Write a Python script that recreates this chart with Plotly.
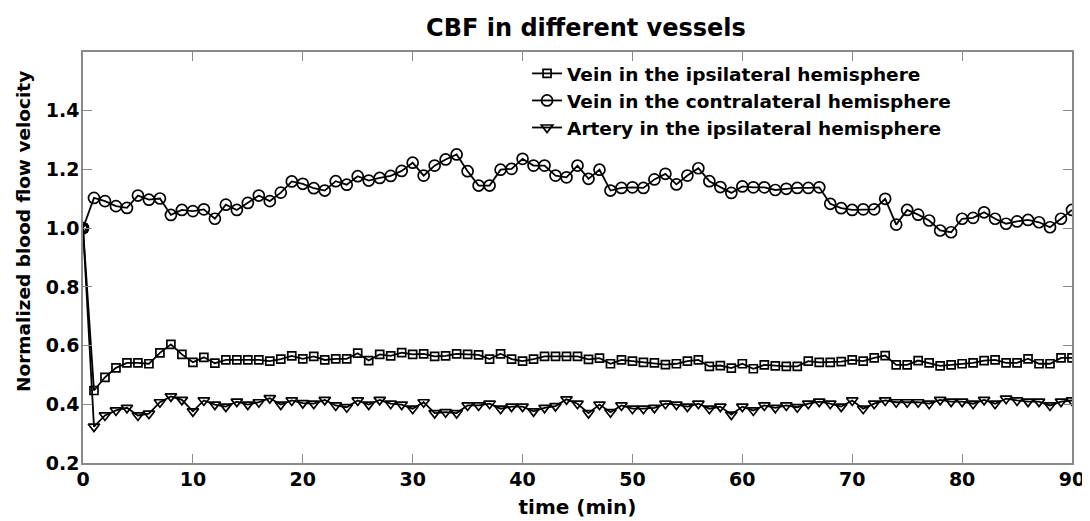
import plotly.graph_objects as go

time_min = list(range(0, 91))

vein_ipsi = [1.0, 0.447, 0.492, 0.524, 0.541, 0.541, 0.538, 0.575, 0.604, 0.570,
             0.543, 0.560, 0.540, 0.551, 0.551, 0.551, 0.551, 0.547, 0.554, 0.565,
             0.555, 0.563, 0.551, 0.555, 0.555, 0.574, 0.549, 0.570, 0.565, 0.576,
             0.570, 0.572, 0.563, 0.565, 0.572, 0.570, 0.568, 0.554, 0.572, 0.554,
             0.547, 0.554, 0.563, 0.563, 0.563, 0.563, 0.553, 0.557, 0.538, 0.551,
             0.547, 0.543, 0.541, 0.535, 0.538, 0.547, 0.551, 0.529, 0.532, 0.523,
             0.538, 0.521, 0.534, 0.531, 0.529, 0.529, 0.547, 0.543, 0.543, 0.545,
             0.551, 0.547, 0.558, 0.566, 0.534, 0.534, 0.549, 0.541, 0.531, 0.534,
             0.538, 0.541, 0.549, 0.551, 0.541, 0.541, 0.555, 0.538, 0.538, 0.558, 0.558]

vein_contra = [1.0, 1.103, 1.092, 1.075, 1.069, 1.111, 1.097, 1.101, 1.045, 1.062,
               1.058, 1.064, 1.032, 1.080, 1.062, 1.086, 1.111, 1.092, 1.121, 1.159,
               1.151, 1.136, 1.128, 1.160, 1.148, 1.177, 1.162, 1.171, 1.178, 1.195,
               1.223, 1.179, 1.213, 1.234, 1.251, 1.194, 1.145, 1.145, 1.199, 1.202,
               1.236, 1.213, 1.213, 1.179, 1.173, 1.213, 1.168, 1.199, 1.128, 1.137,
               1.139, 1.137, 1.166, 1.185, 1.149, 1.179, 1.204, 1.160, 1.140, 1.120,
               1.142, 1.139, 1.139, 1.130, 1.134, 1.137, 1.137, 1.139, 1.083, 1.068,
               1.062, 1.064, 1.064, 1.100, 1.012, 1.062, 1.046, 1.026, 0.992, 0.986,
               1.032, 1.035, 1.054, 1.032, 1.015, 1.023, 1.028, 1.020, 1.003, 1.032, 1.062]

artery_ipsi = [1.0, 0.324, 0.362, 0.379, 0.388, 0.362, 0.368, 0.407, 0.427, 0.415,
               0.376, 0.413, 0.399, 0.392, 0.409, 0.399, 0.407, 0.421, 0.399, 0.413,
               0.404, 0.402, 0.415, 0.396, 0.390, 0.413, 0.399, 0.415, 0.402, 0.399,
               0.385, 0.407, 0.370, 0.373, 0.370, 0.396, 0.396, 0.402, 0.385, 0.392,
               0.392, 0.376, 0.388, 0.394, 0.417, 0.402, 0.370, 0.399, 0.373, 0.396,
               0.385, 0.385, 0.388, 0.402, 0.399, 0.392, 0.402, 0.385, 0.392, 0.365,
               0.392, 0.379, 0.396, 0.388, 0.396, 0.390, 0.402, 0.409, 0.402, 0.392,
               0.413, 0.385, 0.402, 0.413, 0.407, 0.407, 0.407, 0.402, 0.415, 0.409,
               0.409, 0.402, 0.415, 0.402, 0.419, 0.413, 0.409, 0.409, 0.396, 0.409, 0.413]

names = ["Vein in the ipsilateral hemisphere",
         "Vein in the contralateral hemisphere",
         "Artery in the ipsilateral hemisphere"]
series = [vein_ipsi, vein_contra, artery_ipsi]
symbols = ["square-open", "circle-open", "triangle-down-open"]
sizes = [8, 11, 10]

x_ticks = [0, 10, 20, 30, 40, 50, 60, 70, 80, 90]
y_ticks = [0.2, 0.4, 0.6, 0.8, 1.0, 1.2, 1.4]
y_tick_labels = ["0.2", "0.4", "0.6", "0.8", "1.0", "1.2", "1.4"]

FONT = "DejaVu Sans"
AXIS_COLOR = "#8a8a8a"

# page body has an 8px default margin; size the figure to fit the 1090x521 window
W, H = 1082, 513
PL, PR, PT, PB = 75, 18, 44, 58   # plot area: window x 83..1072, y 52..463
PH = H - PT - PB

fig = go.Figure()
for name, vals, sym, sz in zip(names, series, symbols, sizes):
    fig.add_trace(go.Scatter(
        x=time_min, y=vals, name=name, mode="lines+markers",
        line=dict(color="black", width=1.8),
        marker=dict(symbol=sym, size=sz, color="black",
                    line=dict(color="black", width=1.7)),
    ))

axis_common = dict(
    showline=True, linecolor=AXIS_COLOR, linewidth=1.5, mirror="ticks",
    ticks="inside", ticklen=9, tickcolor=AXIS_COLOR, tickwidth=1.2,
    showgrid=False, zeroline=False, automargin=False,
    tickfont=dict(family=FONT, size=19, color="black", weight="bold"),
)

fig.update_layout(
    width=W, height=H,
    margin=dict(l=PL, r=PR, t=PT, b=PB),
    paper_bgcolor="white", plot_bgcolor="white",
    title=dict(text="<b>CBF in different vessels</b>",
               x=578 / W,
               xanchor="center", y=1 - 20 / H, yanchor="middle",
               automargin=False,
               font=dict(family=FONT, size=24, color="black")),
    xaxis=dict(range=[0, 90], tickvals=x_ticks, ticklabelstandoff=-2,
               title=dict(text="<b>time (min)</b>", standoff=11,
                          font=dict(family=FONT, size=20, color="black")),
               **axis_common),
    yaxis=dict(range=[0.2, 1.6], tickvals=y_ticks, ticktext=y_tick_labels,
               ticklabelstandoff=-2, **axis_common),
    legend=dict(x=0.449, y=0.993, xanchor="left", yanchor="top",
                bgcolor="rgba(0,0,0,0)", borderwidth=0, itemwidth=30,
                font=dict(family=FONT, size=18.5, color="black", weight="bold")),
    showlegend=True,
)

fig.add_annotation(
    text="<b>Normalized blood flow velocity</b>", textangle=-90,
    xref="paper", yref="paper",
    x=-60 / (W - PL - PR), y=(PH - (232 - 52)) / PH,
    xanchor="center", yanchor="middle", showarrow=False,
    font=dict(family=FONT, size=18.5, color="black"),
)

fig.write_html("out.html")
